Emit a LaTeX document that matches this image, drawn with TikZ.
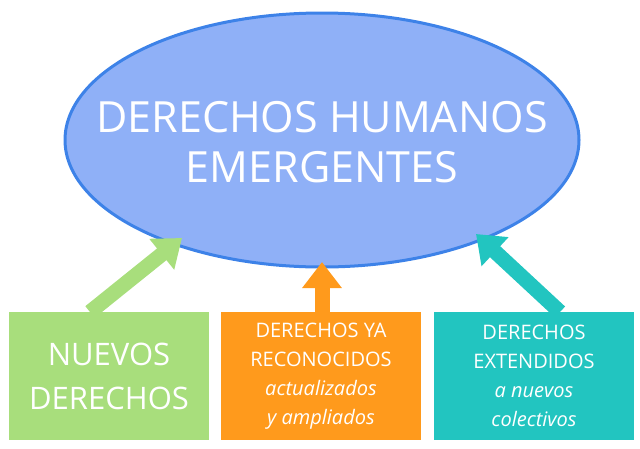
\documentclass[tikz,border=0pt]{standalone}
\usepackage{fontspec}
\setmainfont{Open Sans}
\usetikzlibrary{arrows.meta,shapes.geometric}
\definecolor{ellfill}{HTML}{8FB0F7}
\definecolor{ellline}{HTML}{3D82E8}
\definecolor{cgreen}{HTML}{A8DE7C}
\definecolor{corange}{HTML}{FF9A1C}
\definecolor{cteal}{HTML}{22C5C0}
\begin{document}
\begin{tikzpicture}[x=1pt,y=-1pt,
  boxst/.style={minimum width=200pt,minimum height=128pt,inner sep=0pt,text=white,align=center,font=\fontsize{20}{29}\selectfont},
  bigarrow/.style={line width=15pt,-{Triangle[width=38pt,length=26pt]}}]
\useasboundingbox (0,0) rectangle (640,448);
\node[ellipse,draw=ellline,line width=3pt,fill=ellfill,minimum width=514pt,minimum height=254pt,inner sep=0pt,outer sep=0pt] (main) at (322,140) {};
\node[text=white,align=center,font=\fontsize{43}{50}\selectfont] (title) at (322,142) {DERECHOS HUMANOS\\EMERGENTES};
\node[boxst,fill=cgreen,font=\fontsize{31}{44}\selectfont] (b1) at (109,376) {NUEVOS\\DERECHOS};
\node[boxst,fill=corange] (b2) at (321,376) {DERECHOS YA\\RECONOCIDOS\\\textit{actualizados}\\\textit{y ampliados}};
\node[boxst,fill=cteal] (b3) at (534,376) {DERECHOS\\EXTENDIDOS\\\textit{a nuevos}\\\textit{colectivos}};
\coordinate (t1) at (182,238);
\coordinate (t2) at (322,262);
\coordinate (t3) at (476,234);
\draw[bigarrow,cgreen] (90,312) -- (t1);
\draw[bigarrow,corange] (322,312) -- (t2);
\draw[bigarrow,cteal] (560,312) -- (t3);
\end{tikzpicture}
\end{document}
